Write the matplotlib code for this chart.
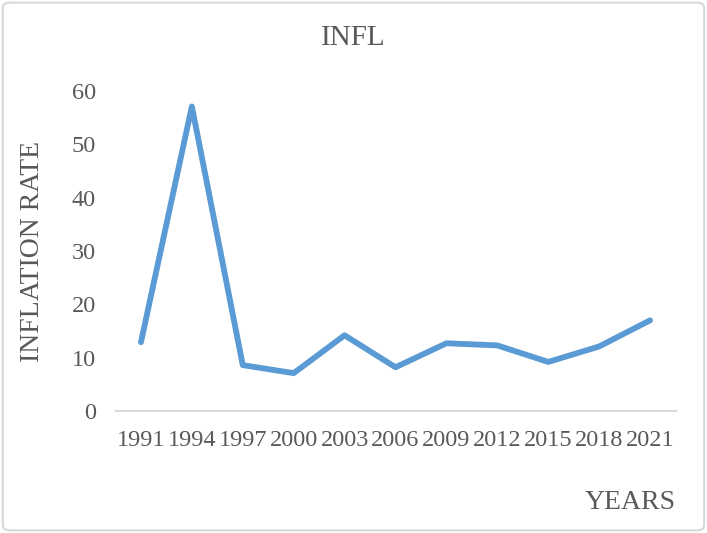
import matplotlib.pyplot as plt
from matplotlib.patches import FancyBboxPatch

plt.rcParams['font.family'] = ['Liberation Serif', 'DejaVu Serif']

years = ['1991', '1994', '1997', '2000', '2003', '2006', '2009', '2012', '2015', '2018', '2021']
infl = [12.9, 57.1, 8.6, 7.1, 14.2, 8.2, 12.7, 12.3, 9.2, 12.1, 17.0]

txt = '#595959'

fig = plt.figure(figsize=(7.07, 5.33), dpi=100)
ax = fig.add_axes([115.5 / 707, 122 / 533, 560 / 707, 320 / 533])

x = range(len(years))
ax.plot(x, infl, color='#5B9BD5', linewidth=4.2, solid_capstyle='round', solid_joinstyle='round')

ax.set_xlim(-0.5, len(years) - 0.5)
ax.set_ylim(0, 60)
ax.set_yticks(range(0, 61, 10))
ax.set_xticks(list(x))
ax.set_xticklabels(years)

for s in ['top', 'right', 'left']:
    ax.spines[s].set_visible(False)
ax.spines['bottom'].set_color('#D9D9D9')
ax.spines['bottom'].set_linewidth(1.5)
ax.tick_params(length=0, labelsize=17.5, colors=txt)
ax.tick_params(axis='x', pad=14)
ax.tick_params(axis='y', pad=14)

fig.text(0.5, 1 - 38 / 533, 'INFL', ha='center', va='center', fontsize=21, color=txt)
ax.set_xlabel('YEARS', loc='right', fontsize=20, color=txt, labelpad=28)
ax.set_ylabel('INFLATION RATE', fontsize=20, color=txt, labelpad=19)

# chart border
fig.patches.append(FancyBboxPatch((0.004, 0.005), 0.992, 0.99, boxstyle='round,pad=0,rounding_size=0.01',
                                  transform=fig.transFigure, facecolor='none', edgecolor='#D9D9D9', linewidth=1.5))

fig.savefig('out.png', dpi=100)
